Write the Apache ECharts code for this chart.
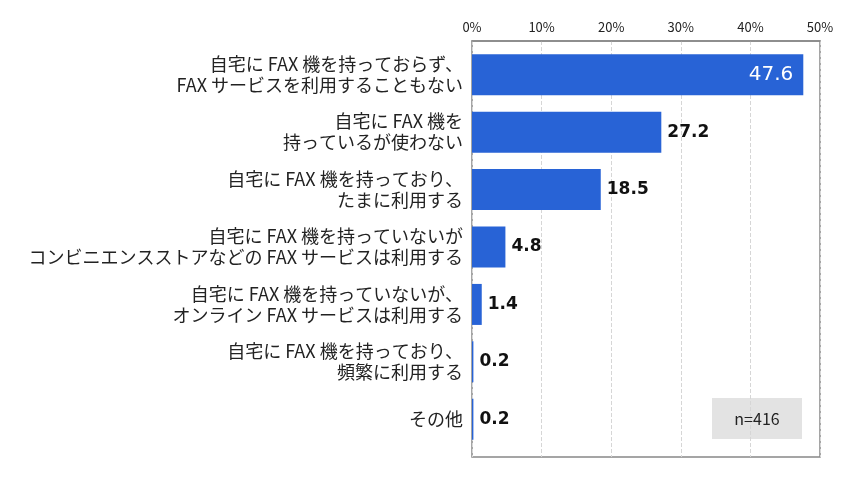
<!DOCTYPE html>
<html>
<head>
<meta charset="utf-8">
<script src="https://cdn.jsdelivr.net/npm/echarts@6/dist/echarts.min.js"></script>
<style>
  html, body { margin: 0; padding: 0; background: #fff; }
  #chart { width: 843px; height: 483px; }
</style>
</head>
<body>
<div id="chart"></div>
<script>
  // 回答項目
  var categories = [
    '自宅に FAX 機を持っておらず、\nFAX サービスを利用することもない',
    '自宅に FAX 機を\n持っているが使わない',
    '自宅に FAX 機を持っており、\nたまに利用する',
    '自宅に FAX 機を持っていないが\nコンビニエンスストアなどの FAX サービスは利用する',
    '自宅に FAX 機を持っていないが、\nオンライン FAX サービスは利用する',
    '自宅に FAX 機を持っており、\n頻繁に利用する',
    'その他'
  ];
  // 割合(%)
  var values = [47.6, 27.2, 18.5, 4.8, 1.4, 0.2, 0.2];
  var sampleText = 'n=416';

  var fontJP = '"Noto Sans CJK JP", "Noto Sans", sans-serif';

  var myChart = echarts.init(document.getElementById('chart'), null, { renderer: 'canvas' });

  var seriesData = values.map(function (v, idx) {
    // 先頭のバーだけラベルを内側に白で表示
    if (idx === 0) {
      return {
        value: v,
        label: { position: 'insideRight', color: '#fff', fontWeight: 'normal', fontSize: 20, distance: 10 }
      };
    }
    return v;
  });

  var option = {
    animation: false,
    // grid 0: 枠と目盛り, grid 1: バー
    grid: [
      {
        left: 472, right: 23, top: 41, bottom: 26,
        show: true, borderColor: '#888', borderWidth: 1.5
      },
      {
        left: 472, right: 23, top: 46, bottom: 35
      }
    ],
    xAxis: [
      {
        type: 'value',
        gridIndex: 0,
        position: 'top',
        min: 0,
        max: 50,
        interval: 10,
        axisLine: { show: true, lineStyle: { color: '#888', width: 1.5 } },
        axisTick: { show: false },
        axisLabel: {
          formatter: '{value}%',
          color: '#222',
          fontSize: 13,
          fontFamily: fontJP,
          margin: 7
        },
        splitLine: { show: true, lineStyle: { color: '#d6d6d6', type: 'dashed' } }
      },
      {
        type: 'value',
        gridIndex: 1,
        min: 0,
        max: 50,
        show: false
      }
    ],
    yAxis: [
      {
        type: 'category',
        gridIndex: 0,
        show: false,
        data: categories
      },
      {
        type: 'category',
        gridIndex: 1,
        inverse: true,
        data: categories,
        axisLine: { show: false },
        axisTick: { show: false },
        axisLabel: {
          color: '#222',
          fontSize: 18,
          lineHeight: 21,
          fontFamily: fontJP,
          align: 'right',
          margin: 9
        }
      }
    ],
    graphic: [
      {
        type: 'rect',
        shape: { x: 712, y: 398, width: 90, height: 41 },
        style: { fill: '#e3e3e3' },
        z: 0
      },
      {
        type: 'text',
        x: 757,
        y: 419,
        style: {
          text: sampleText,
          fill: '#222',
          fontSize: 16,
          fontFamily: fontJP,
          align: 'center',
          verticalAlign: 'middle'
        },
        z: 1
      }
    ],
    series: [
      {
        type: 'bar',
        xAxisIndex: 1,
        yAxisIndex: 1,
        barWidth: 41,
        itemStyle: { color: '#2863d6' },
        label: {
          show: true,
          position: 'right',
          color: '#111',
          fontSize: 17,
          fontWeight: 'bold',
          fontFamily: '"DejaVu Sans", sans-serif',
          distance: 6,
          formatter: function (p) { return p.value.toFixed(1); }
        },
        data: seriesData
      }
    ]
  };

  option && myChart.setOption(option);
</script>
</body>
</html>
